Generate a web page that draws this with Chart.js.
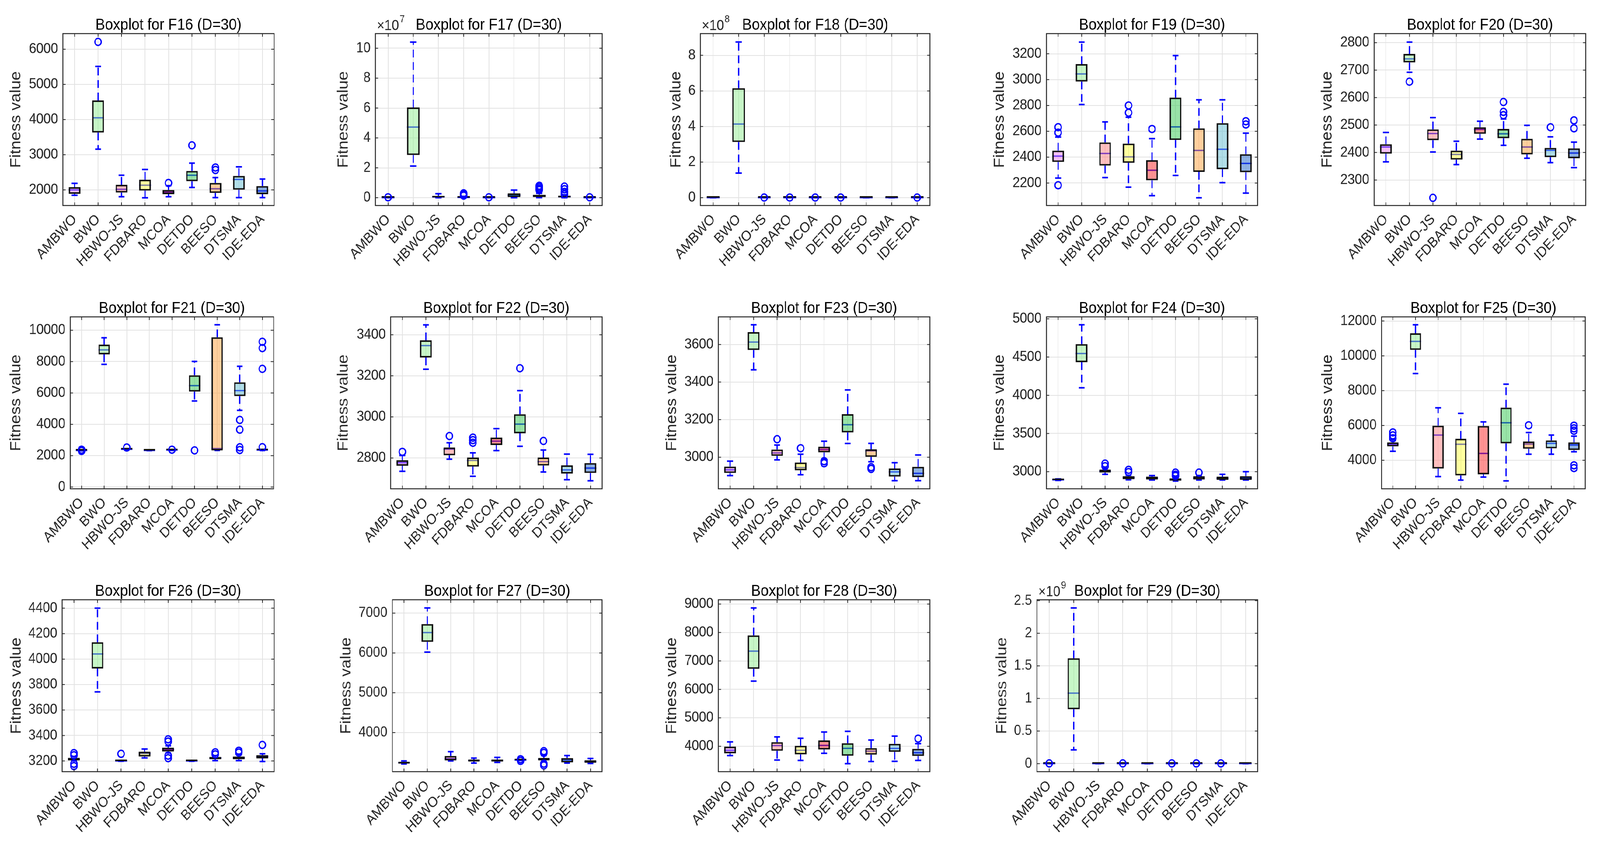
<!DOCTYPE html>
<html>
<head>
<meta charset="utf-8">
<script src="https://cdn.jsdelivr.net/npm/chart.js@4.4.1/dist/chart.umd.min.js"></script>
<style>
  html, body { margin: 0; padding: 0; background: #fff; overflow: hidden; }
  #stage { width: 4555px; height: 2155px; position: relative; transform-origin: 0 0; background: #fff; }
  .panel { position: absolute; display: block; }
</style>
</head>
<body>
<div id="stage"></div>
<script>
// algorithms on the x axis of every panel
const algorithms = ['AMBWO', 'BWO', 'HBWO-JS', 'FDBARO', 'MCOA', 'DETDO', 'BEESO', 'DTSMA', 'IDE-EDA'];
const panelNames = ['F16', 'F17', 'F18', 'F19', 'F20', 'F21', 'F22', 'F23', 'F24', 'F25', 'F26', 'F27', 'F28', 'F29'];

// one row per algorithm: [lower whisker, q1, median, q3, upper whisker]
const F16 = [[1846, 1887, 2000, 2077, 2185], [3159, 3631, 4051, 4544, 5513], [1805, 1923, 2015, 2144, 2415],
  [1774, 1979, 2133, 2287, 2579], [1805, 1877, 1933, 1995, 2118], [2067, 2246, 2415, 2538, 2759],
  [1779, 1913, 2031, 2195, 2349], [1779, 2005, 2297, 2395, 2656], [1779, 1877, 1969, 2108, 2308]];
const F16_out = [['BWO', 6210], ['MCOA', 2195], ['DETDO', 3267], ['BEESO', 2636], ['BEESO', 2565]];

// x 1e7
const F17 = [[0, 0.005, 0.01, 0.015, 0.03], [2.12, 2.86, 4.73, 6.04, 10.41], [0, 0.02, 0.06, 0.13, 0.27],
  [0, 0.01, 0.02, 0.04, 0.09], [0, 0.005, 0.01, 0.015, 0.03], [0, 0.04, 0.17, 0.29, 0.51],
  [0.01, 0.04, 0.12, 0.2, 0.3], [0, 0.02, 0.07, 0.14, 0.2], [0, 0.005, 0.01, 0.015, 0.03]];
const F17_out = [['AMBWO', 0.03], ['FDBARO', 0.3], ['FDBARO', 0.22], ['FDBARO', 0.14], ['MCOA', 0.03],
  ['BEESO', 0.8], ['BEESO', 0.7], ['BEESO', 0.6], ['BEESO', 0.52], ['DTSMA', 0.75], ['DTSMA', 0.57],
  ['DTSMA', 0.39], ['DTSMA', 0.23], ['IDE-EDA', 0.03]];

// x 1e8
const F18 = [[0, 0.001, 0.002, 0.003, 0.005], [1.38, 3.13, 4.14, 6.15, 8.75], [0, 0.001, 0.002, 0.003, 0.005],
  [0, 0.001, 0.002, 0.003, 0.005], [0, 0.001, 0.002, 0.003, 0.005], [0, 0.001, 0.002, 0.003, 0.005],
  [0, 0.001, 0.002, 0.003, 0.005], [0, 0.001, 0.002, 0.003, 0.005], [0, 0.001, 0.002, 0.003, 0.005]];
const F18_out = [['HBWO-JS', 0.01], ['FDBARO', 0.01], ['MCOA', 0.01], ['DETDO', 0.01], ['IDE-EDA', 0.01]];

const F19 = [[2238, 2363, 2408, 2451, 2556], [2807, 2985, 3044, 3120, 3290], [2242, 2335, 2429, 2514, 2673],
  [2168, 2356, 2402, 2505, 2709], [2102, 2221, 2299, 2377, 2544], [2259, 2533, 2634, 2861, 3186],
  [2086, 2286, 2452, 2623, 2844], [2203, 2307, 2461, 2663, 2844], [2122, 2284, 2352, 2423, 2586]];
const F19_out = [['AMBWO', 2632], ['AMBWO', 2590], ['AMBWO', 2183], ['FDBARO', 2800], ['FDBARO', 2744],
  ['MCOA', 2618], ['IDE-EDA', 2678], ['IDE-EDA', 2653]];

const F20 = [[2366, 2396, 2420, 2430, 2473], [2692, 2728, 2741, 2759, 2802], [2402, 2445, 2469, 2484, 2527],
  [2356, 2374, 2393, 2407, 2441], [2449, 2468, 2484, 2492, 2514], [2426, 2452, 2468, 2486, 2522],
  [2379, 2393, 2420, 2450, 2499], [2363, 2383, 2408, 2417, 2457], [2345, 2379, 2398, 2415, 2438]];
const F20_out = [['BWO', 2658], ['HBWO-JS', 2235], ['DETDO', 2584], ['DETDO', 2548], ['DETDO', 2536],
  ['DTSMA', 2492], ['IDE-EDA', 2517], ['IDE-EDA', 2488]];

const F21 = [[2310, 2325, 2336, 2345, 2360], [7825, 8458, 8746, 9080, 9517], [2380, 2395, 2410, 2425, 2440],
  [2320, 2330, 2336, 2342, 2350], [2335, 2348, 2359, 2368, 2380], [5489, 6087, 6467, 7123, 8009],
  [2336, 2336, 2450, 9551, 10345], [4891, 5800, 6145, 6674, 7698], [2330, 2345, 2359, 2372, 2390]];
const F21_out = [['AMBWO', 2380], ['AMBWO', 2300], ['HBWO-JS', 2520], ['MCOA', 2380], ['DETDO', 2336],
  ['DTSMA', 4281], ['DTSMA', 3659], ['DTSMA', 2532], ['DTSMA', 2359],
  ['IDE-EDA', 9264], ['IDE-EDA', 8861], ['IDE-EDA', 7537], ['IDE-EDA', 2540]];

const F22 = [[2735, 2762, 2777, 2789, 2812], [3232, 3289, 3347, 3373, 3448], [2794, 2813, 2843, 2851, 2874],
  [2711, 2758, 2788, 2802, 2825], [2836, 2863, 2882, 2899, 2943], [2857, 2920, 2965, 3013, 3128],
  [2732, 2763, 2782, 2802, 2839], [2694, 2724, 2742, 2764, 2819], [2689, 2727, 2751, 2775, 2818]];
const F22_out = [['AMBWO', 2830], ['HBWO-JS', 2907], ['FDBARO', 2899], ['FDBARO', 2887], ['FDBARO', 2874],
  ['DETDO', 3237], ['BEESO', 2883]];

const F23 = [[2902, 2916, 2933, 2950, 2979], [3465, 3571, 3613, 3666, 3705], [2986, 3007, 3023, 3041, 3065],
  [2907, 2930, 2945, 2972, 3016], [2990, 3026, 3041, 3056, 3085], [3073, 3132, 3173, 3229, 3358],
  [2976, 3002, 3034, 3042, 3074], [2875, 2897, 2922, 2940, 2971], [2875, 2894, 2914, 2949, 3012]];
const F23_out = [['HBWO-JS', 3096], ['FDBARO', 3048], ['MCOA', 2979], ['MCOA', 2968], ['BEESO', 2947], ['BEESO', 2938]];

const F24 = [[2886, 2890, 2894, 2898, 2905], [4098, 4433, 4547, 4669, 4922], [2965, 2988, 3005, 3028, 3047],
  [2894, 2901, 2922, 2941, 2953], [2891, 2898, 2917, 2934, 2948], [2877, 2882, 2894, 2913, 2929],
  [2891, 2898, 2917, 2939, 2950], [2891, 2894, 2913, 2934, 2965], [2891, 2894, 2917, 2941, 3000]];
const F24_out = [['HBWO-JS', 3106], ['HBWO-JS', 3071], ['FDBARO', 3024], ['FDBARO', 2995], ['DETDO', 2988],
  ['DETDO', 2960], ['DETDO', 2945], ['BEESO', 2988]];

const F25 = [[4518, 4798, 4922, 5026, 5181], [8984, 10342, 10829, 11295, 11782], [3067, 3523, 5451, 5990, 7015],
  [2860, 3130, 4922, 5233, 6694], [3036, 3192, 4394, 5969, 6207], [2819, 4974, 6155, 7026, 8373],
  [4352, 4663, 4933, 5078, 5596], [4352, 4684, 4974, 5140, 5451], [4487, 4591, 4881, 5026, 5389]];
const F25_out = [['AMBWO', 5600], ['AMBWO', 5430], ['AMBWO', 5264], ['BEESO', 6010], ['IDE-EDA', 5990],
  ['IDE-EDA', 5834], ['IDE-EDA', 5700], ['IDE-EDA', 3710], ['IDE-EDA', 3554]];

const F26 = [[3200, 3204, 3214, 3225, 3235], [3743, 3926, 4040, 4132, 4400], [3198, 3199, 3200, 3201, 3203],
  [3224, 3235, 3259, 3273, 3294], [3263, 3274, 3291, 3305, 3319], [3198, 3199, 3200, 3201, 3202],
  [3203, 3214, 3224, 3232, 3242], [3203, 3214, 3224, 3235, 3253], [3196, 3220, 3235, 3246, 3256]];
const F26_out = [['AMBWO', 3262], ['AMBWO', 3245], ['AMBWO', 3178], ['AMBWO', 3160], ['HBWO-JS', 3256],
  ['MCOA', 3370], ['MCOA', 3352], ['MCOA', 3242], ['MCOA', 3222], ['BEESO', 3268], ['BEESO', 3252],
  ['DTSMA', 3280], ['DTSMA', 3266], ['IDE-EDA', 3326]];

const F27 = [[3211, 3220, 3242, 3269, 3287], [6022, 6278, 6511, 6726, 7130], [3287, 3300, 3345, 3413, 3520],
  [3233, 3274, 3300, 3323, 3359], [3251, 3274, 3300, 3323, 3377], [3300, 3305, 3309, 3313, 3318],
  [3265, 3300, 3332, 3363, 3422], [3233, 3251, 3309, 3359, 3422], [3224, 3242, 3274, 3305, 3350]];
const F27_out = [['DETDO', 3330], ['DETDO', 3290], ['BEESO', 3534], ['BEESO', 3489], ['BEESO', 3220], ['BEESO', 3175]];

const F28 = [[3674, 3755, 3862, 3987, 4157], [6290, 6723, 7344, 7896, 8862], [3517, 3843, 4025, 4144, 4332],
  [3504, 3718, 3862, 4019, 4282], [3755, 3887, 4031, 4207, 4502], [3391, 3667, 3931, 4107, 4527],
  [3467, 3705, 3831, 3937, 4220], [3473, 3806, 3925, 4088, 4358], [3504, 3661, 3774, 3912, 4094]];
const F28_out = [['IDE-EDA', 4270]];

// x 1e9
const F29 = [[0, 0.0005, 0.001, 0.0015, 0.002], [0.211, 0.835, 1.082, 1.616, 2.388], [0, 0.0005, 0.001, 0.0015, 0.002],
  [0, 0.0005, 0.001, 0.0015, 0.002], [0, 0.0005, 0.001, 0.0015, 0.002], [0, 0.0005, 0.001, 0.0015, 0.002],
  [0, 0.0005, 0.001, 0.0015, 0.002], [0, 0.0005, 0.001, 0.0015, 0.002], [0, 0.0005, 0.001, 0.0015, 0.002]];
const F29_out = [['AMBWO', 0.004], ['FDBARO', 0.004], ['DETDO', 0.004], ['BEESO', 0.004], ['DTSMA', 0.004]];

const panelStats = [F16, F17, F18, F19, F20, F21, F22, F23, F24, F25, F26, F27, F28, F29];
const panelOutliers = [F16_out, F17_out, F18_out, F19_out, F20_out, F21_out, F22_out, F23_out,
  F24_out, F25_out, F26_out, F27_out, F28_out, F29_out];

// y axis ticks and limits (exponent = the x10^n label)
const yTicks = [
  [2000, 3000, 4000, 5000, 6000], [0, 2, 4, 6, 8, 10], [0, 2, 4, 6, 8],
  [2200, 2400, 2600, 2800, 3000, 3200], [2300, 2400, 2500, 2600, 2700, 2800],
  [0, 2000, 4000, 6000, 8000, 10000], [2800, 3000, 3200, 3400], [3000, 3200, 3400, 3600],
  [3000, 3500, 4000, 4500, 5000], [4000, 6000, 8000, 10000, 12000],
  [3200, 3400, 3600, 3800, 4000, 4200, 4400], [4000, 5000, 6000, 7000],
  [4000, 5000, 6000, 7000, 8000, 9000], [0, 0.5, 1, 1.5, 2, 2.5]];
const yMin = [1554, -0.52, -0.44, 2026, 2207, -115, 2650, 2832, 2776, 2363, 3116, 3018, 3109, -0.123];
const yMax = [6446, 10.98, 9.22, 3356, 2833, 10852, 3487, 3747, 5026, 12238, 4466, 7336, 9150, 2.514];
const yExp = [0, 7, 8, 0, 0, 0, 0, 0, 0, 0, 0, 0, 0, 9];

// layout: plot area of every panel, in picture pixels
const plotLeft = [179, 1069, 1994, 2979, 3912, 200, 1112, 2045, 2979, 3933, 177, 1117, 2045, 2952];
const plotRight = [783, 1717, 2650, 3583, 4517, 783, 1717, 2650, 3583, 4517, 783, 1717, 2650, 3583];
const rowTop = [86, 811, 1535];
const yTitleGap = [133, 91, 69, 133, 133, 154, 134, 132, 133, 153, 130, 131, 132, 99];
const PLOT_H = 440, TOP_PAD = 70, XAXIS_H = 230;

const FONT = "'Liberation Sans', Arial, Helvetica, sans-serif";
const TEXT = '#262626';
const GRID = '#e2e2e2';
const BLUE = '#0000ff';
const boxFill = ['rgba(238,130,238,0.5)', 'rgba(144,238,144,0.5)', 'rgba(255,128,128,0.5)',
  'rgba(255,255,64,0.5)', 'rgba(255,40,40,0.5)', 'rgba(50,200,80,0.5)',
  'rgba(255,160,60,0.5)', 'rgba(100,190,210,0.5)', 'rgba(30,100,200,0.5)'];

// the stage is laid out in picture pixels and stretched onto the whole window
const stage = document.getElementById('stage');
const sx = window.innerWidth / 4555, sy = window.innerHeight / 2155;
stage.style.transform = 'scale(' + sx + ',' + sy + ')';

function boxplotParts(p) {
  const stats = panelStats[p];
  return {
    id: 'boxplotParts',
    beforeDatasetsDraw(chart) {
      const { ctx, chartArea: a, scales: { x, y } } = chart;
      const step = x.getPixelForValue(1) - x.getPixelForValue(0);
      ctx.save();
      ctx.beginPath();
      ctx.rect(a.left, a.top, a.width, a.height);
      ctx.clip();
      stats.forEach((s, i) => {
        const cx = x.getPixelForValue(i);
        const [lo, q1, med, q3, hi] = s.map(v => y.getPixelForValue(v));
        // dashed whiskers
        ctx.strokeStyle = BLUE;
        ctx.lineWidth = 3.5;
        ctx.setLineDash([20, 12]);
        ctx.beginPath();
        ctx.moveTo(cx, q3); ctx.lineTo(cx, hi);
        ctx.moveTo(cx, q1); ctx.lineTo(cx, lo);
        ctx.stroke();
        ctx.setLineDash([]);
        // caps
        ctx.lineWidth = 4;
        ctx.beginPath();
        ctx.moveTo(cx - step * 0.125, hi); ctx.lineTo(cx + step * 0.125, hi);
        ctx.moveTo(cx - step * 0.125, lo); ctx.lineTo(cx + step * 0.125, lo);
        ctx.stroke();
        // median (the translucent box fill is drawn over it)
        ctx.lineWidth = 3.5;
        ctx.beginPath();
        ctx.moveTo(cx - step * 0.25, med); ctx.lineTo(cx + step * 0.25, med);
        ctx.stroke();
      });
      ctx.restore();
    },
    afterDraw(chart) {
      const { ctx, chartArea: a, scales: { x, y } } = chart;
      ctx.save();
      // axes box with inward ticks
      ctx.strokeStyle = TEXT;
      ctx.lineWidth = 2.5;
      ctx.strokeRect(a.left, a.top, a.width, a.height);
      ctx.lineWidth = 2;
      ctx.beginPath();
      y.ticks.forEach(t => {
        const py = y.getPixelForValue(t.value);
        ctx.moveTo(a.left, py); ctx.lineTo(a.left + 8, py);
        ctx.moveTo(a.right, py); ctx.lineTo(a.right - 8, py);
      });
      algorithms.forEach((_, i) => {
        const px = x.getPixelForValue(i);
        ctx.moveTo(px, a.bottom); ctx.lineTo(px, a.bottom - 8);
        ctx.moveTo(px, a.top); ctx.lineTo(px, a.top + 8);
      });
      ctx.stroke();
      // title, centred on the plot area
      ctx.fillStyle = '#000';
      ctx.font = `41px ${FONT}`;
      ctx.textAlign = 'center';
      ctx.textBaseline = 'alphabetic';
      ctx.fillText('Boxplot for ' + panelNames[p] + ' (D=30)', (a.left + a.right) / 2, a.top - 10);
      // exponent label
      if (yExp[p]) {
        ctx.fillStyle = TEXT;
        ctx.textAlign = 'left';
        ctx.font = `37px ${FONT}`;
        const bx = a.left + 4, by = a.top - 9;
        ctx.fillText('\u00d710', bx, by);
        const w = ctx.measureText('\u00d710').width;
        ctx.font = `26px ${FONT}`;
        ctx.fillText(String(yExp[p]), bx + w + 2, by - 20);
      }
      ctx.restore();
    }
  };
}

function makePanel(p) {
  const W = yTitleGap[p] + 25;
  const plotW = plotRight[p] - plotLeft[p];
  const top = rowTop[Math.floor(p / 5)];
  const w = W + plotW + 10;
  const h = TOP_PAD + PLOT_H + XAXIS_H;
  const cv = document.createElement('canvas');
  cv.className = 'panel';
  cv.width = w;
  cv.height = h;
  cv.style.left = (plotLeft[p] - W) + 'px';
  cv.style.top = (top - TOP_PAD) + 'px';
  cv.style.width = w + 'px';
  cv.style.height = h + 'px';
  stage.appendChild(cv);

  const stats = panelStats[p];
  const outliers = panelOutliers[p].map(o => ({ x: o[0], y: o[1] }));

  new Chart(cv, {
    type: 'bar',
    data: {
      labels: algorithms,
      datasets: [
        {
          type: 'bar',
          data: stats.map(s => [s[1], s[3]]),
          backgroundColor: boxFill,
          borderColor: '#111111',
          borderWidth: 4,
          borderSkipped: false,
          barPercentage: 0.5,
          categoryPercentage: 1,
          minBarLength: 4,
          order: 1
        },
        {
          type: 'line',
          data: outliers,
          showLine: false,
          pointRadius: 9,
          pointHoverRadius: 9,
          pointBorderWidth: 3.5,
          pointBorderColor: BLUE,
          pointBackgroundColor: 'rgba(0,0,0,0)',
          order: 0
        }
      ]
    },
    options: {
      responsive: false,
      animation: false,
      devicePixelRatio: 1,
      events: [],
      layout: { padding: { left: 0, right: 10, top: TOP_PAD, bottom: 0 } },
      plugins: {
        legend: { display: false },
        tooltip: { enabled: false },
        title: { display: false }
      },
      scales: {
        x: {
          grid: { offset: false, color: GRID, lineWidth: 2, drawTicks: false },
          border: { display: false },
          ticks: {
            font: { family: FONT, size: 37 },
            color: TEXT,
            minRotation: 45,
            maxRotation: 45,
            autoSkip: false,
            padding: 14
          },
          afterFit(scale) { scale.height = XAXIS_H; }
        },
        y: {
          min: yMin[p],
          max: yMax[p],
          beginAtZero: false,
          grid: { color: GRID, lineWidth: 2, drawTicks: false },
          border: { display: false },
          ticks: {
            font: { family: FONT, size: 37 },
            color: TEXT,
            padding: 14,
            callback: v => String(Number(v.toFixed(6)))
          },
          afterBuildTicks(scale) { scale.ticks = yTicks[p].map(v => ({ value: v })); },
          title: {
            display: true,
            text: 'Fitness value',
            font: { family: FONT, size: 42 },
            color: TEXT,
            padding: { top: 0, bottom: 0 }
          },
          afterFit(scale) { scale.width = W; }
        }
      }
    },
    plugins: [boxplotParts(p)]
  });
}

panelNames.forEach((_, p) => makePanel(p));
</script>
</body>
</html>
